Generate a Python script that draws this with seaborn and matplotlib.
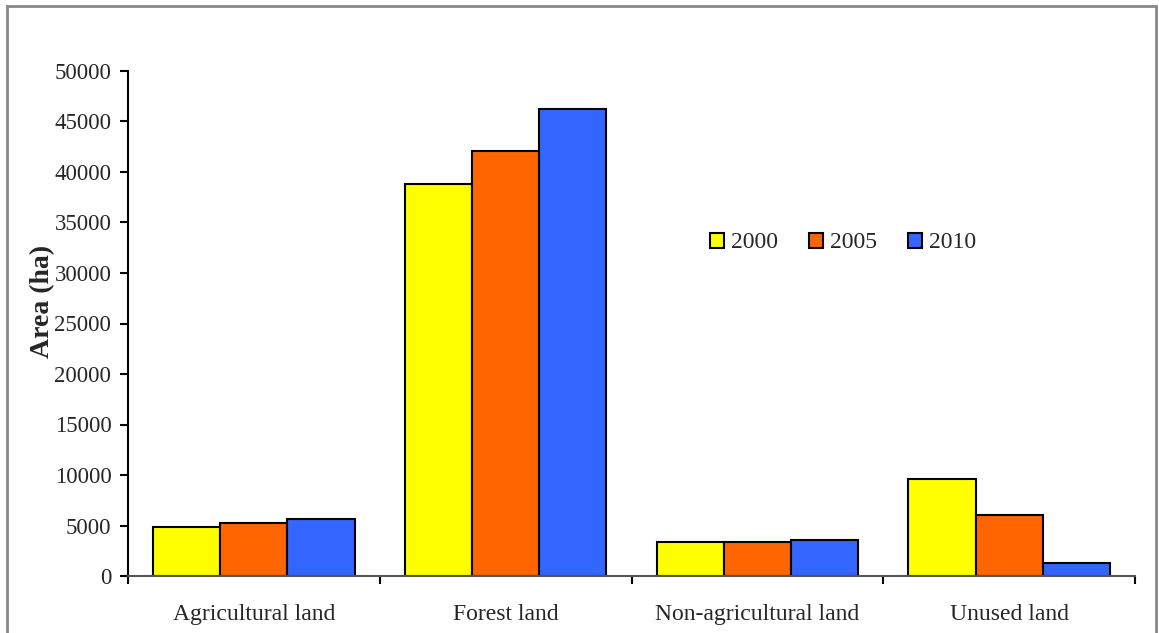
import matplotlib
matplotlib.use("Agg")
import matplotlib.pyplot as plt
import seaborn as sns
import pandas as pd
from matplotlib.patches import Rectangle
from matplotlib.ticker import FixedLocator

categories = ["Agricultural land", "Forest land", "Non-agricultural land", "Unused land"]
years = ["2000", "2005", "2010"]
values_2000 = [4850, 38800, 3370, 9600]
values_2005 = [5280, 42050, 3370, 6010]
values_2010 = [5640, 46200, 3560, 1290]
colors = ["#FFFF00", "#FF6600", "#3366FF"]

rows = []
for yr, vals in zip(years, [values_2000, values_2005, values_2010]):
    for c, v in zip(categories, vals):
        rows.append({"Category": c, "Year": yr, "Area": v})
df = pd.DataFrame(rows)

sns.set_style("white")
plt.rcParams['font.family'] = ['Liberation Serif', 'DejaVu Serif']

fig = plt.figure(figsize=(11.59, 6.33), dpi=100)
ax = fig.add_axes([128/1159, 1-576/633, (1135-128)/1159, (576-71)/633])

sns.barplot(data=df, x="Category", y="Area", hue="Year", order=categories,
            hue_order=years, palette=colors, width=0.8, gap=0,
            edgecolor="black", linewidth=1.5, ax=ax, errorbar=None, saturation=1)

ax.set_xlim(-0.5, 3.5)
ax.set_ylim(0, 50000)
ax.set_yticks(range(0, 50001, 5000))
ax.tick_params(axis='y', labelsize=16.5, length=6, width=1.5, direction='out', left=True, color='black', pad=6)
ax.tick_params(axis='x', which='major', labelsize=17, length=0, pad=20)
ax.xaxis.set_minor_locator(FixedLocator([-0.5, 0.5, 1.5, 2.5, 3.5]))
ax.tick_params(axis='x', which='minor', length=6, width=1.5, bottom=True, color='black')
ax.set_xlabel("")
ax.set_ylabel("Area (ha)", fontsize=20, fontweight='bold')
ax.yaxis.set_label_coords((55-128)/1007, (576-301)/505)

for s in ["top", "right"]:
    ax.spines[s].set_visible(False)
ax.spines["left"].set_color("black")
ax.spines["left"].set_linewidth(1.5)
ax.spines["bottom"].set_color("#555555")
ax.spines["bottom"].set_linewidth(1.5)

leg = ax.legend(title=None, frameon=False, fontsize=17, ncol=3,
                loc='center', bbox_to_anchor=((843-128)/1007, (576-243)/505),
                handlelength=0.6, handleheight=0.6, handletextpad=0.3, columnspacing=1.3)

fig.patches.append(Rectangle((7/1159, -0.05), (1156-7)/1159, 1.05 - 6/633,
                             transform=fig.transFigure, fill=False,
                             edgecolor="#888888", linewidth=2))

fig.savefig("out.png", dpi=100)
